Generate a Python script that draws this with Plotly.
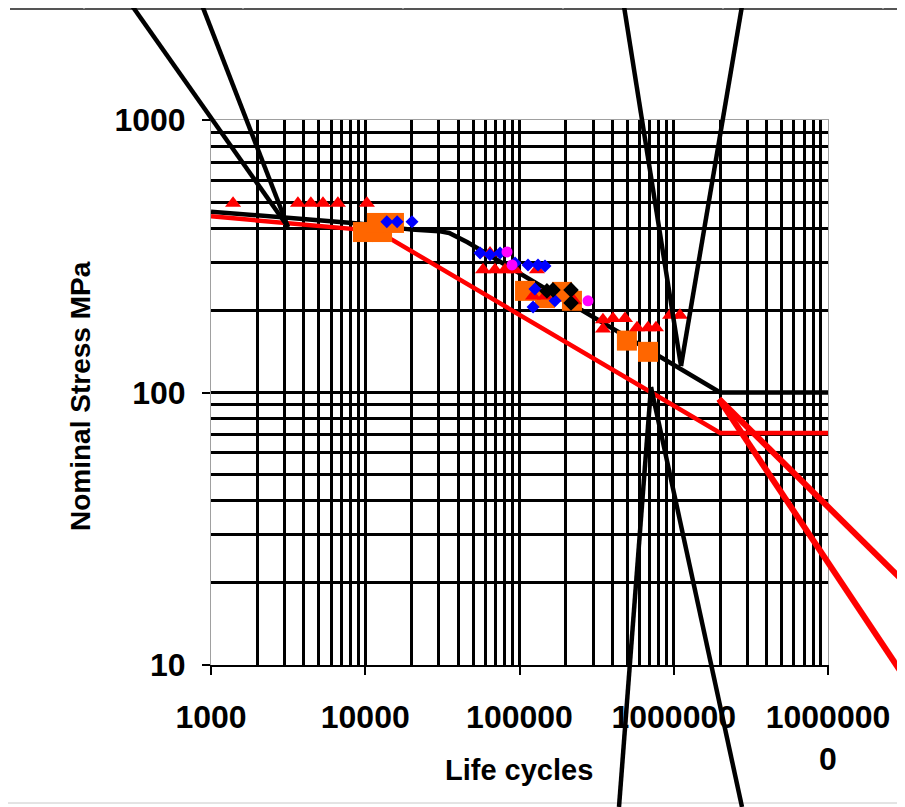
import plotly.graph_objects as go

# ---------------- data ----------------
# design curves
black_curve_N = [1000, 9000, 20000, 30000, 35000, 40000, 46000, 2000000, 10000000]
black_curve_S = [461, 417, 396, 391, 385, 372, 356, 100, 100]
red_curve_N = [1000, 12000, 2000000, 10000000]
red_curve_S = [443, 391, 71, 71]

# test results
orange_N = [9660, 12850, 11900, 15350, 108600, 146300, 188600, 218800, 497000, 681000]
orange_S = [388, 388, 419, 419, 236, 222, 234, 217, 155, 141]

red_tri_N = [1390, 3660, 4440, 5320, 6650, 10250, 58000, 64400, 69300, 80500, 93500,
             129700, 122400, 146300, 225300, 347600, 347600, 403600, 483000, 578000,
             681000, 767000, 946000, 1097000]
red_tri_S = [495, 495, 495, 495, 495, 495, 282, 325, 282, 282, 282,
             282, 226, 226, 217, 185, 171, 187, 187, 173,
             173, 173, 192, 192]

blue_N = [13800, 16100, 20100, 55500, 64400, 74800, 93600, 113500, 131800, 146300,
          125900, 170000, 122400]
blue_S = [423, 423, 423, 325, 320, 325, 299, 294, 294, 291, 240, 217, 206]

black_dia_N = [150600, 164800, 215800, 215800]
black_dia_S = [236, 238, 238, 213]

magenta_N = [83000, 89400, 278000]
magenta_S = [328, 294, 217]

# axis ticks
x_tickvals = [1000, 10000, 100000, 1000000, 10000000]
x_ticktext = ["1000", "10000", "100000", "1000000", "1000000<br>0"]
y_tickvals = [10, 100, 1000]
y_ticktext = ["10", "100", "1000"]

# ---------------- figure ----------------
# the page body adds an 8 px margin, so the figure is laid out 8 px smaller
OFF = 8
W, H = 905 - OFF, 807 - OFF
SL, SR, ST, SB = 211, 828, 120, 665          # plot area on screen
PL, PR, PT, PB = SL - OFF, SR - OFF, ST - OFF, SB - OFF


def to_paper(sx, sy):
    return (sx - SL) / (SR - SL), (SB - sy) / (SB - ST)


FONT = "Liberation Sans, Arial, sans-serif"

fig = go.Figure()
fig.add_trace(go.Scatter(x=black_curve_N, y=black_curve_S, mode="lines",
                         line=dict(color="black", width=4.5), hoverinfo="skip"))
fig.add_trace(go.Scatter(x=red_curve_N, y=red_curve_S, mode="lines",
                         line=dict(color="#ff0000", width=4.5), hoverinfo="skip"))
fig.add_trace(go.Scatter(x=orange_N, y=orange_S, mode="markers",
                         marker=dict(symbol="square", size=20, color="#ff6600", line=dict(width=0))))
fig.add_trace(go.Scatter(x=red_tri_N, y=red_tri_S, mode="markers",
                         marker=dict(symbol="triangle-up", size=14, color="#ff0000", line=dict(width=0))))
fig.add_trace(go.Scatter(x=blue_N, y=blue_S, mode="markers",
                         marker=dict(symbol="diamond", size=10, color="#0000ff", line=dict(width=0))))
fig.add_trace(go.Scatter(x=black_dia_N, y=black_dia_S, mode="markers",
                         marker=dict(symbol="diamond", size=12, color="black", line=dict(width=0))))
fig.add_trace(go.Scatter(x=magenta_N, y=magenta_S, mode="markers",
                         marker=dict(symbol="circle", size=11, color="#ff00ff", line=dict(width=0))))
# empty trace so the overlay axes (decade grid lines) exist
fig.add_trace(go.Scatter(x=[], y=[], xaxis="x2", yaxis="y2", hoverinfo="skip"))

x_minor = [m * 10 ** k for k in range(3, 7) for m in range(2, 10)]
y_minor = [m * 10 ** k for k in (1, 2) for m in range(2, 10)]

tickfont = dict(family=FONT, size=32, color="black", weight="bold")

fig.update_layout(
    width=W, height=H, autosize=False,
    margin=dict(l=PL, r=W - PR, t=PT, b=H - PB, autoexpand=False),
    paper_bgcolor="white", plot_bgcolor="white",
    showlegend=False,
    xaxis=dict(type="log", range=[3, 7], tickmode="array", tickvals=x_tickvals, ticktext=x_ticktext,
               ticks="outside", ticklen=8, tickwidth=2, tickcolor="black",
               showgrid=False, zeroline=False,
               minor=dict(tickmode="array", tickvals=x_minor, showgrid=True, gridcolor="black",
                          gridwidth=3, ticks=""),
               showline=True, linecolor="black", linewidth=2,
               tickfont=tickfont, ticklabelstandoff=15),
    xaxis2=dict(type="log", range=[3, 7], overlaying="x", anchor="y", side="top",
                tickmode="array", tickvals=[10000, 100000, 1000000],
                showgrid=True, gridcolor="black", gridwidth=3, showticklabels=False, ticks="",
                showline=True, linecolor="#a0a0a0", linewidth=1, zeroline=False),
    yaxis=dict(type="log", range=[1, 3], tickmode="array", tickvals=y_tickvals, ticktext=y_ticktext,
               ticks="outside", ticklen=8, tickwidth=2, tickcolor="black",
               showgrid=False, zeroline=False,
               minor=dict(tickmode="array", tickvals=y_minor, showgrid=True, gridcolor="black",
                          gridwidth=2.5, ticks=""),
               showline=True, linecolor="#a0a0a0", linewidth=1, mirror=True,
               tickfont=tickfont, ticklabelstandoff=10),
    yaxis2=dict(type="log", range=[1, 3], overlaying="y", anchor="x", side="right",
                tickmode="array", tickvals=[100], showgrid=True, gridcolor="black", gridwidth=2.5,
                showticklabels=False, ticks="", showline=False, zeroline=False),
)

# axis titles
fig.add_annotation(text="<b>Life cycles</b>", xref="paper", yref="paper",
                   x=to_paper(519, 0)[0], y=to_paper(0, 770)[1], showarrow=False,
                   font=dict(family=FONT, size=29, color="black"),
                   xanchor="center", yanchor="middle")
fig.add_annotation(text="<b>Nominal Stress MPa</b>", xref="paper", yref="paper",
                   x=to_paper(80, 0)[0], y=to_paper(0, 396)[1], showarrow=False, textangle=-90,
                   font=dict(family=FONT, size=28, color="black"),
                   xanchor="center", yanchor="middle")

# drawing-layer decorations of the original sheet (callout lines and cell borders), screen px
callout_lines = [
    ((128, 0), (288, 227), "black", 4.5),
    ((200, 0), (288, 227), "black", 4.5),
    ((623, 0), (681, 366), "black", 4.5),
    ((743, 0), (681, 366), "black", 4.5),
    ((651, 387), (619, 807), "black", 4.5),
    ((651, 387), (742, 807), "black", 4.5),
    ((719, 399), (905, 583), "#ff0000", 6),
    ((719, 399), (905, 678), "#ff0000", 6),
]
sheet_lines = [((10, 9), (905, 9), "#555555", 2), ((0, 803), (905, 803), "#c8c8c8", 1)]
sheet_lines += [((xc, 0), (xc, 9), "#d0d0d0", 1) for xc in (84, 243, 403, 563, 723, 883)]

for (p0, p1, col, w) in sheet_lines + callout_lines:
    x0, y0 = to_paper(*p0)
    x1, y1 = to_paper(*p1)
    fig.add_shape(type="line", xref="paper", yref="paper", x0=x0, y0=y0, x1=x1, y1=y1,
                  line=dict(color=col, width=w), layer="above")

fig.write_html("out.html")
